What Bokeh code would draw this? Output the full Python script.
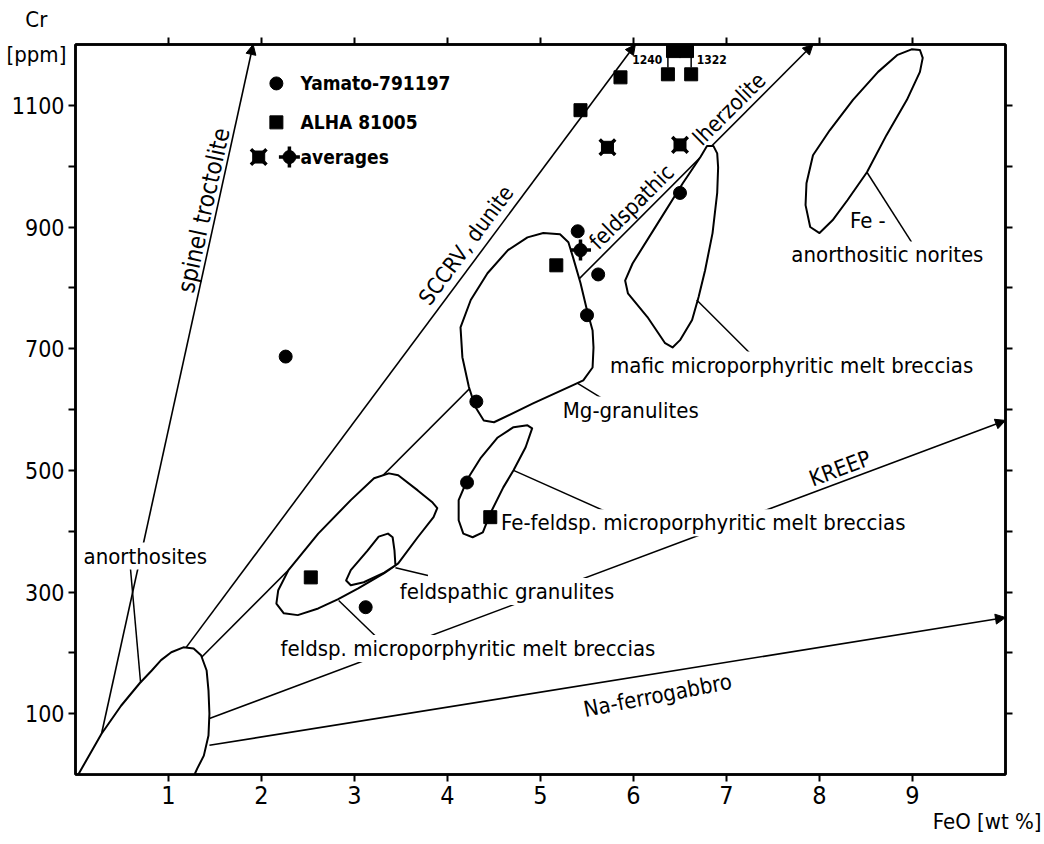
from bokeh.plotting import figure
from bokeh.models import (Label, Arrow, NormalHead, LinearAxis, FixedTicker,
                          Range1d, CustomJSTickFormatter, Title)
from bokeh.embed import file_html
from bokeh.resources import INLINE

FONT = "DejaVu Sans Condensed"
INK = "black"

# ---- analyses: FeO [wt %] vs Cr [ppm] ----
YAMATO_FEO = [2.26, 3.12, 4.21, 4.31, 5.40, 5.50, 5.62, 6.50]
YAMATO_CR = [687, 275, 480, 613, 893, 755, 822, 956]

ALHA_FEO = [2.53, 4.46, 5.17, 5.43, 5.86, 6.37, 6.62]
ALHA_CR = [324, 423, 837, 1092, 1146, 1151, 1151]

# ALHA 81005 analyses above the Cr scale
ALHA_HIGH_FEO = [6.43, 6.57]
ALHA_HIGH_CR = [1240, 1322]

# averages
AVG_CROSS_FEO = [5.72, 6.50]
AVG_CROSS_CR = [1031, 1035]
AVG_PLUS_FEO = [5.43]
AVG_PLUS_CR = [862]

# ---- axes ----
X_MAX = 10.0
Y_MAX = 1200
X_TICKS = [1, 2, 3, 4, 5, 6, 7, 8, 9]
Y_TICKS = [100, 300, 500, 700, 900, 1100]
Y_MINOR = [200, 400, 600, 800, 1000]

# ---- trend lines (start, end) ----
TREND_X0 = [0.28, 1.19, 1.35, 1.44, 1.44]
TREND_Y0 = [67, 209, 192, 92, 48]
TREND_X1 = [1.91, 6.02, 7.93, 10.0, 10.0]
TREND_Y1 = [1200, 1200, 1200, 582, 258]

# labels written along the trend lines
TREND_LABELS = ["spinel    troctolite", "SCCRV, dunite", "feldspathic",
                "lherzolite", "KREEP", "Na-ferrogabbro"]
TREND_LABEL_X = [1.405, 4.20, 5.98, 7.03, 8.22, 6.26]
TREND_LABEL_Y = [944, 870, 933, 1094, 503, 130]
TREND_LABEL_ANGLE = [1.353, 0.930, 0.785, 0.785, 0.358, 0.192]
TREND_LABEL_SIZE = ["24px", "22px", "22px", "22px", "22px", "22px"]

# ---- compositional fields (FeO, Cr outlines) ----
FIELD_ORIGIN_X = [0.03, 0.28, 0.49, 0.69, 0.82, 0.92, 1.03, 1.16, 1.27, 1.35, 1.41,
                  1.43, 1.44, 1.43, 1.38, 1.31, 1.28]
FIELD_ORIGIN_Y = [0, 67, 113, 150, 171, 188, 201, 209, 207, 196, 171,
                  138, 100, 64, 31, 10, 0]

FIELD_FMB_X = [3.37, 3.47, 3.68, 3.84, 3.89, 3.85, 3.68, 3.47, 3.32, 3.04, 2.82,
               2.61, 2.39, 2.24, 2.16, 2.18, 2.29, 2.61, 2.96, 3.21]
FIELD_FMB_Y = [495, 492, 467, 447, 438, 423, 390, 347, 331, 306, 288,
               273, 262, 265, 281, 303, 336, 396, 451, 487]

FIELD_FG_X = [3.36, 3.41, 3.43, 3.44, 3.32, 3.10, 2.96, 2.91, 2.96, 3.14, 3.26]
FIELD_FG_Y = [396, 390, 368, 344, 332, 316, 311, 319, 336, 368, 391]

FIELD_FEFMB_X = [4.91, 4.86, 4.71, 4.54, 4.36, 4.22, 4.12, 4.12, 4.17, 4.27, 4.38,
                 4.46, 4.60, 4.71, 4.84]
FIELD_FEFMB_Y = [569, 574, 571, 554, 521, 487, 451, 418, 396, 390, 398,
                 429, 472, 500, 538]

FIELD_MG_X = [5.21, 5.30, 5.35, 5.43, 5.50, 5.56, 5.57, 5.56, 5.46, 5.35, 4.92,
              4.50, 4.39, 4.30, 4.23, 4.16, 4.14, 4.25, 4.43, 4.65, 4.86, 5.03]
FIELD_MG_Y = [888, 875, 850, 808, 763, 730, 702, 669, 648, 640, 610,
              579, 582, 604, 637, 686, 735, 780, 824, 862, 883, 890]

FIELD_MAFIC_X = [6.79, 6.86, 6.90, 6.91, 6.90, 6.85, 6.77, 6.70, 6.63, 6.50, 6.42,
                 6.34, 6.15, 5.94, 5.91, 5.99, 6.26, 6.53, 6.72]
FIELD_MAFIC_Y = [1033, 1033, 1021, 998, 956, 890, 829, 785, 747, 714, 702,
                 709, 752, 791, 812, 840, 906, 972, 1015]

FIELD_FEAN_X = [8.00, 7.90, 7.85, 7.86, 7.93, 8.11, 8.36, 8.63, 8.84, 8.99, 9.08,
                9.11, 9.08, 8.94, 8.72, 8.51, 8.30, 8.14]
FIELD_FEAN_Y = [890, 900, 936, 972, 1018, 1059, 1109, 1155, 1183, 1192, 1191,
                1178, 1155, 1109, 1051, 990, 944, 911]

# ---- leader lines from labels to fields ----
LEADER_X0 = [0.59, 5.40, 6.68, 8.51, 4.71, 3.44, 2.83]
LEADER_Y0 = [340, 643, 780, 990, 500, 340, 286]
LEADER_X1 = [0.70, 5.75, 7.38, 8.99, 5.75, 3.79, 3.25]
LEADER_Y1 = [151, 610, 673, 875, 429, 327, 224]

p = figure(width=1044, height=844,
           x_range=Range1d(0, X_MAX), y_range=Range1d(0, Y_MAX),
           x_axis_type=None, y_axis_type=None,
           output_backend="svg", toolbar_location=None,
           min_border_left=75, min_border_right=39,
           min_border_top=44, min_border_bottom=70)
p.outline_line_color = INK
p.outline_line_width = 2.5
p.background_fill_color = "white"
p.border_fill_color = "white"

blank = CustomJSTickFormatter(code="return ''")


def style_axis(ax, labels, size):
    ax.axis_line_width = 2.5
    ax.axis_line_color = INK
    ax.major_tick_in = 0
    ax.major_tick_out = 7
    ax.minor_tick_in = 0
    ax.minor_tick_out = 7
    ax.major_tick_line_width = 2
    ax.minor_tick_line_width = 2
    ax.major_tick_line_color = INK
    ax.minor_tick_line_color = INK
    ax.major_label_text_font = FONT
    ax.major_label_text_font_size = size
    ax.major_label_text_color = INK
    ax.major_label_standoff = 4
    if not labels:
        ax.formatter = blank
        ax.major_label_standoff = 0


bottom = LinearAxis(ticker=FixedTicker(ticks=X_TICKS))
top = LinearAxis(ticker=FixedTicker(ticks=X_TICKS))
left = LinearAxis(ticker=FixedTicker(ticks=Y_TICKS, minor_ticks=Y_MINOR))
right = LinearAxis(ticker=FixedTicker(ticks=Y_TICKS, minor_ticks=Y_MINOR))
style_axis(bottom, True, "25px")
style_axis(left, True, "23px")
style_axis(top, False, "1px")
style_axis(right, False, "1px")
p.add_layout(bottom, "below")
p.add_layout(left, "left")
p.add_layout(top, "above")
p.add_layout(right, "right")

# axis titles in the margins
p.add_layout(Title(text="FeO [wt %]", align="right", offset=-36, standoff=0,
                   text_font=FONT, text_font_size="22px",
                   text_font_style="normal", text_color=INK), "below")
p.add_layout(Title(text="\u00a0\u00a0\u00a0Cr\n[ppm]", align="left", offset=-69,
                   standoff=-58, text_font=FONT, text_font_size="22px",
                   text_line_height=1.4, text_font_style="normal",
                   text_color=INK), "above")

# trend arrows, drawn underneath the fields
for x0, y0, x1, y1 in zip(TREND_X0, TREND_Y0, TREND_X1, TREND_Y1):
    p.add_layout(Arrow(x_start=x0, y_start=y0, x_end=x1, y_end=y1,
                       line_color=INK, line_width=1.6, level="underlay",
                       end=NormalHead(size=10, fill_color=INK, line_color=INK,
                                      line_width=1)))

# fields
p.patches(xs=[FIELD_ORIGIN_X, FIELD_FMB_X, FIELD_FEFMB_X, FIELD_MG_X,
              FIELD_MAFIC_X, FIELD_FEAN_X],
          ys=[FIELD_ORIGIN_Y, FIELD_FMB_Y, FIELD_FEFMB_Y, FIELD_MG_Y,
              FIELD_MAFIC_Y, FIELD_FEAN_Y],
          fill_color="white", line_color=INK, line_width=2, line_join="round")
p.patch(FIELD_FG_X, FIELD_FG_Y, fill_color="white", line_color=INK,
        line_width=2, line_join="round")

# leader lines
p.segment(LEADER_X0, LEADER_Y0, LEADER_X1, LEADER_Y1, line_color=INK,
          line_width=1.5)

# off-scale analyses: pinned to the top edge with ties down to the scale
high_y = [min(v, Y_MAX - 10) for v in ALHA_HIGH_CR]
p.scatter(ALHA_HIGH_FEO, high_y, marker="square", size=14,
          fill_color=INK, line_color=INK)
p.segment(ALHA_FEO[5:7], [c + 11 for c in ALHA_CR[5:7]],
          ALHA_FEO[5:7], [Y_MAX - 14] * 2, line_color=INK, line_width=1.5)
for fx, cr, align in zip([6.31, 6.68], ALHA_HIGH_CR, ["right", "left"]):
    p.add_layout(Label(x=fx, y=1176, text=str(cr), text_font=FONT,
                       text_font_size="12px", text_font_style="bold",
                       text_align=align, text_baseline="middle",
                       text_color=INK))

# points
p.scatter(YAMATO_FEO, YAMATO_CR, marker="circle", size=13,
          fill_color=INK, line_color=INK)
p.scatter(ALHA_FEO, ALHA_CR, marker="square", size=13,
          fill_color=INK, line_color=INK)
p.scatter(AVG_CROSS_FEO, AVG_CROSS_CR, marker="square", size=12,
          fill_color=INK, line_color=INK)
p.scatter(AVG_CROSS_FEO, AVG_CROSS_CR, marker="x", size=22,
          line_color=INK, line_width=3.5)
p.scatter(AVG_PLUS_FEO, AVG_PLUS_CR, marker="circle", size=13,
          fill_color=INK, line_color=INK)
p.scatter(AVG_PLUS_FEO, AVG_PLUS_CR, marker="cross", size=21,
          line_color=INK, line_width=3.5)

# legend
LEG_X = 2.16
p.scatter([LEG_X], [1136], marker="circle", size=13, fill_color=INK, line_color=INK)
p.scatter([LEG_X], [1072], marker="square", size=13, fill_color=INK, line_color=INK)
p.scatter([1.97], [1015], marker="square", size=12, fill_color=INK, line_color=INK)
p.scatter([1.97], [1015], marker="x", size=22, line_color=INK, line_width=3.5)
p.scatter([2.30], [1015], marker="circle", size=13, fill_color=INK, line_color=INK)
p.scatter([2.30], [1015], marker="cross", size=21, line_color=INK, line_width=3.5)
for ty, txt in zip([1136, 1072, 1015], ["Yamato-791197", "ALHA 81005", "averages"]):
    p.add_layout(Label(x=2.42, y=ty, text=txt, text_font=FONT,
                       text_font_size="19px", text_font_style="bold",
                       text_align="left", text_baseline="middle", text_color=INK))

for name, lx, ly, ang, fs in zip(TREND_LABELS, TREND_LABEL_X, TREND_LABEL_Y,
                                 TREND_LABEL_ANGLE, TREND_LABEL_SIZE):
    p.add_layout(Label(x=lx, y=ly, text=name, angle=ang, text_font=FONT,
                       text_font_size=fs, text_align="center",
                       text_baseline="middle", text_color=INK))

# field labels (white boxes interrupt the lines behind them)
FIELD_LABELS = ["anorthosites", "Mg-granulites", "mafic microporphyritic melt breccias",
                "Fe -", "anorthositic norites",
                "Fe-feldsp. microporphyritic melt breccias",
                "feldspathic granulites", "feldsp. microporphyritic melt breccias"]
FIELD_LABEL_X = [0.75, 5.97, 7.70, 8.52, 8.73, 6.75, 4.64, 4.22]
FIELD_LABEL_Y = [359, 599, 673, 911, 854, 414, 301, 207]
for txt, lx, ly in zip(FIELD_LABELS, FIELD_LABEL_X, FIELD_LABEL_Y):
    p.add_layout(Label(x=lx, y=ly, text=txt, text_font=FONT,
                       text_font_size="22px", text_align="center",
                       text_baseline="middle", text_color=INK,
                       background_fill_color="white", padding=1))

open("out.html", "w").write(file_html(p, INLINE))
